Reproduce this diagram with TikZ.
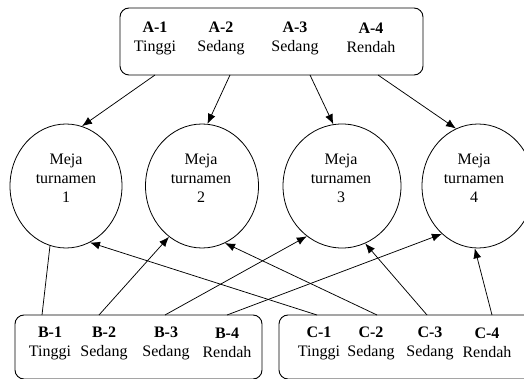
\documentclass[tikz,border=0pt]{standalone}
\usepackage{fontspec}
\setmainfont{Liberation Serif}
\usetikzlibrary{shapes.geometric,arrows.meta}
\begin{document}
\begin{tikzpicture}[x=1pt,y=-1pt,
  box/.style={draw, rounded corners=9pt, line width=0.9pt},
  meja/.style={draw, ellipse, line width=0.8pt, inner sep=0pt, minimum height=124pt},
  lab/.style={align=center, inner sep=0pt, font=\fontsize{16}{19}\selectfont},
  arr/.style={-{Latex[length=10pt,width=8pt]}, line width=0.75pt},
  ln/.style={line width=0.75pt}]
\useasboundingbox (0,0) rectangle (524,379);
\clip (0,0) rectangle (524,379);
% top box
\node[box, minimum width=303pt, minimum height=67pt] (top) at (271.5,41.5) {};
\node[lab] (a1) at (155,38) {\textbf{A-1}\\Tinggi};
\node[lab] (a2) at (221,38) {\textbf{A-2}\\Sedang};
\node[lab] (a3) at (295,38) {\textbf{A-3}\\Sedang};
\node[lab] (a4) at (371,38) {\textbf{A-4}\\Rendah};
% bottom boxes
\node[box, minimum width=247pt, minimum height=64pt] (bbox) at (138.5,347) {};
\node[box, minimum width=256pt, minimum height=64pt] (cbox) at (407,347) {};
\node[lab] (b1) at (50,343) {\textbf{B-1}\\Tinggi};
\node[lab] (b2) at (104,343) {\textbf{B-2}\\Sedang};
\node[lab] (b3) at (166,343) {\textbf{B-3}\\Sedang};
\node[lab] (b4) at (227,343) {\textbf{B-4}\\Rendah};
\node[lab] (c1) at (319,343) {\textbf{C-1}\\Tinggi};
\node[lab] (c2) at (371,343) {\textbf{C-2}\\Sedang};
\node[lab] (c3) at (430,343) {\textbf{C-3}\\Sedang};
\node[lab] (c4) at (487,343) {\textbf{C-4}\\Rendah};
% circles
\node[meja, minimum width=112pt] (m1) at (66,186) {};
\node[meja, minimum width=113pt] (m2) at (202,186) {};
\node[meja, minimum width=118pt] (m3) at (342,186) {};
\node[meja, minimum width=112pt] (m4) at (478,186) {};
\node[lab] (t1) at (66,178) {Meja\\turnamen\\1};
\node[lab] (t2) at (201,178) {Meja\\turnamen\\2};
\node[lab] (t3) at (341,178) {Meja\\turnamen\\3};
\node[lab] (t4) at (474,178) {Meja\\turnamen\\4};
% start coordinates on box edges
\coordinate (sa1) at (155,75);
\coordinate (sa2) at (230,75);
\coordinate (sa3) at (310,75);
\coordinate (sa4) at (378,75);
\coordinate (sb1) at (42,315);
\coordinate (sb2) at (99,315);
\coordinate (sb3) at (165,315);
\coordinate (sb4) at (227,315);
\coordinate (sc1) at (317,315);
\coordinate (sc2) at (377,315);
\coordinate (sc3) at (427,315);
\coordinate (sc4) at (492,315);
% connectors
\draw[arr] (sa1) -- (m1.75);
\draw[arr] (sa2) -- (m2.85);
\draw[arr] (sa3) -- (m3.98);
\draw[arr] (sa4) -- (m4.111);
\draw[ln] (sb1) -- (m1.255);
\draw[arr] (sb2) -- (m2.237);
\draw[arr] (sb3) -- (m3.235);
\draw[arr] (sb4) -- (m4.233);
\draw[arr] (sc1) -- (m1.293);
\draw[arr] (sc2) -- (m2.292);
\draw[arr] (sc3) -- (m3.292);
\draw[arr] (sc4) -- (m4.267);
\end{tikzpicture}
\end{document}
